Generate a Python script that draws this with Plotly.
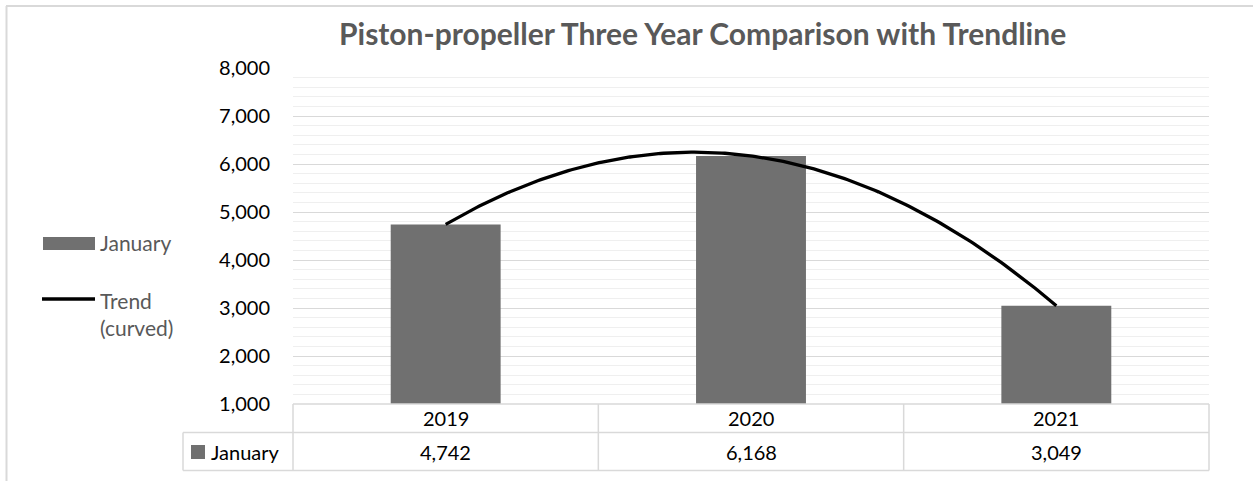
import numpy as np
import plotly.graph_objects as go

years = ["2019", "2020", "2021"]
january = [4742, 6168, 3049]
value_labels = ["4,742", "6,168", "3,049"]
series_name = "January"
trend_name = "Trend (curved)"
title = "Piston-propeller Three Year Comparison with Trendline"

W, H = 1253, 481
L, R, T, B = 293, 1209, 68, 404
FONT = "Lato, Calibri, Carlito, sans-serif"
GRAY_TXT = "#595959"
BAR = "#707070"
BORDER = "#d9d9d9"

def px(x):
    return (x - L) / (R - L)

def py(y):
    return (B - y) / (B - T)

xs = np.arange(len(years))
coef = np.polyfit(xs, january, 2)
xt = np.linspace(0, len(years) - 1, 200)
yt = np.polyval(coef, xt)

fig = go.Figure()
fig.add_trace(go.Bar(x=xs, y=january, marker=dict(color=BAR, line=dict(width=0)),
                     name=series_name, showlegend=False))
fig.add_trace(go.Scatter(x=xt, y=yt, mode="lines", line=dict(color="black", width=3.3),
                         name=trend_name, showlegend=False))

shapes = []
annotations = []
line_style = dict(color=BORDER, width=1.5)

def text(x, y, s, size, color, xanchor="center", align="center"):
    annotations.append(dict(x=px(x), y=py(y), xref="paper", yref="paper", text=s,
                            xanchor=xanchor, yanchor="middle", align=align, showarrow=False,
                            font=dict(family=FONT, size=size, color=color)))

# outer chart border (top & left)
shapes.append(dict(type="line", xref="paper", yref="paper", x0=px(6), x1=px(W + 5), y0=py(6), y1=py(6), line=dict(color=BORDER, width=2)))
shapes.append(dict(type="line", xref="paper", yref="paper", x0=px(6.5), x1=px(6.5), y0=py(6), y1=py(H + 5), line=dict(color=BORDER, width=2)))

# data table
row1_bot, row2_bot = 432.5, 470.5
left_cell = 183
col_w = (R - L) / len(years)
shapes.append(dict(type="line", xref="paper", yref="paper", x0=px(L), x1=px(R), y0=py(B), y1=py(B), line=line_style))
shapes.append(dict(type="line", xref="paper", yref="paper", x0=px(left_cell), x1=px(R), y0=py(row1_bot), y1=py(row1_bot), line=line_style))
shapes.append(dict(type="line", xref="paper", yref="paper", x0=px(left_cell), x1=px(R), y0=py(row2_bot), y1=py(row2_bot), line=line_style))
shapes.append(dict(type="line", xref="paper", yref="paper", x0=px(left_cell), x1=px(left_cell), y0=py(row1_bot), y1=py(row2_bot), line=line_style))
for i in range(len(years) + 1):
    xx = L + i * col_w
    shapes.append(dict(type="line", xref="paper", yref="paper", x0=px(xx), x1=px(xx), y0=py(B), y1=py(row2_bot), line=line_style))

for i, (yr, lab) in enumerate(zip(years, value_labels)):
    cx = L + (i + 0.5) * col_w
    text(cx, (B + row1_bot) / 2, yr, 20, "#000000")
    text(cx, (row1_bot + row2_bot) / 2, lab, 20, "#000000")

# table legend key
shapes.append(dict(type="rect", xref="paper", yref="paper", x0=px(191), x1=px(205), y0=py(445), y1=py(459),
                   fillcolor=BAR, line=dict(width=0)))
text(209, 452, series_name, 20, "#000000", xanchor="left")

# side legend
shapes.append(dict(type="rect", xref="paper", yref="paper", x0=px(43), x1=px(95), y0=py(237), y1=py(250),
                   fillcolor=BAR, line=dict(width=0)))
text(98, 243, series_name, 21, GRAY_TXT, xanchor="left")
shapes.append(dict(type="line", xref="paper", yref="paper", x0=px(42), x1=px(95), y0=py(299), y1=py(299),
                   line=dict(color="black", width=3.3)))
text(98, 314, "Trend<br>(curved)", 21, GRAY_TXT, xanchor="left", align="left")

# title
text(702, 33, "<b>" + title + "</b>", 30, GRAY_TXT)

fig.update_layout(
    width=W, height=H,
    margin=dict(l=L, r=W - R, t=T, b=H - B, pad=0),
    paper_bgcolor="white", plot_bgcolor="white",
    bargap=0.64,
    showlegend=False,
    shapes=shapes,
    annotations=annotations,
    font=dict(family=FONT, size=20, color="#000000"),
)
fig.update_xaxes(range=[-0.5, len(years) - 0.5], showticklabels=False, showgrid=False,
                 zeroline=False, showline=False, ticks="")
fig.update_yaxes(range=[1000, 8000], dtick=1000, tickformat=",", showgrid=True, gridcolor="#d9d9d9",
                 gridwidth=1.3, zeroline=False, showline=False, ticks="",
                 ticklabelstandoff=22,
                 tickfont=dict(family=FONT, size=20, color="#000000"),
                 minor=dict(dtick=200, showgrid=True, gridcolor="#efefef", gridwidth=1.3))

fig.write_html("out.html", config={"displayModeBar": False},
               post_script="document.body.style.margin='0';")
